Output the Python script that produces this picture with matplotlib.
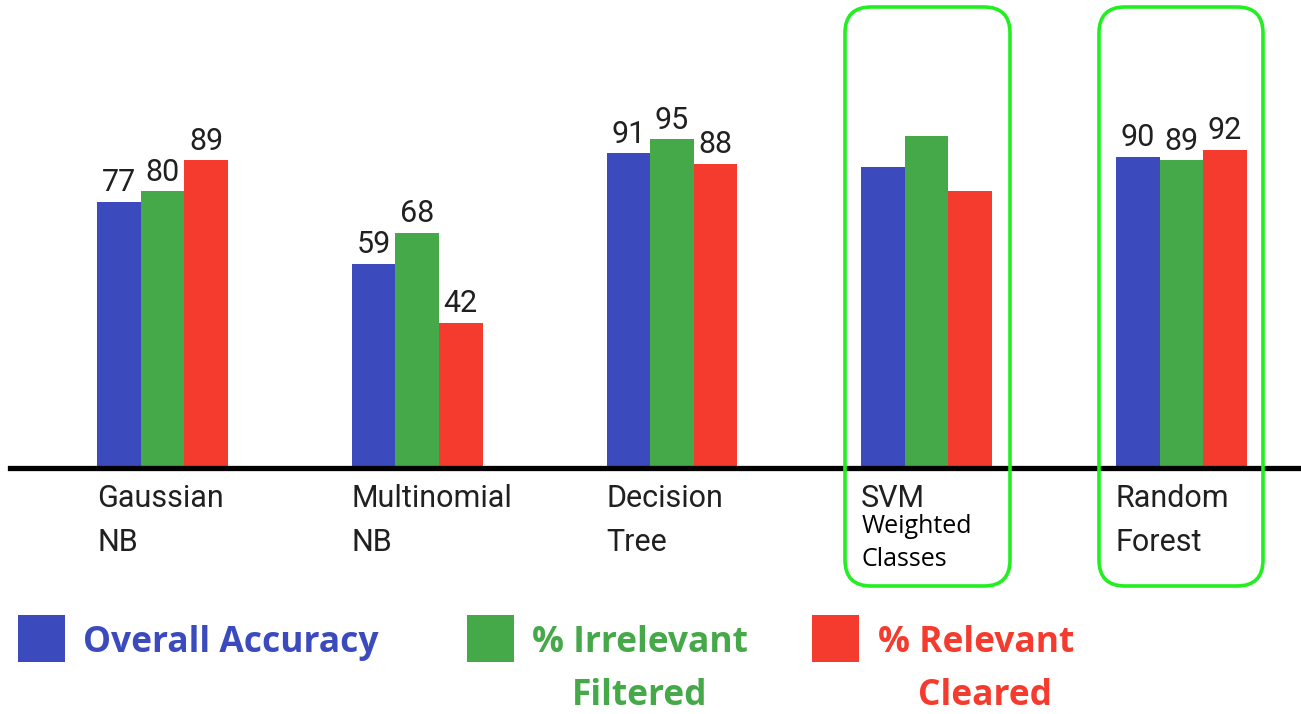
import matplotlib
matplotlib.use('Agg')
import matplotlib.pyplot as plt
from matplotlib.patches import FancyBboxPatch, Rectangle
from matplotlib.transforms import IdentityTransform
import numpy as np

# data
models = ['Gaussian\nNB', 'Multinomial\nNB', 'Decision\nTree', 'SVM', 'Random\nForest']
overall_acc = [77, 59, 91, 87, 90]
irrelevant_filtered = [80, 68, 95, 96, 89]
relevant_cleared = [89, 42, 88, 80, 92]
show_values = [True, True, True, False, True]
series_names = ['Overall Accuracy', '% Irrelevant\nFiltered', '% Relevant\nCleared']
colors = ['#3B4BBE', '#45A849', '#F43B2E']

W, H = 1301, 714

fig = plt.figure(figsize=(W / 100, H / 100), dpi=100)
fig.patch.set_facecolor('white')

# axes: baseline sits 468 px from the top, ~3.46 px per unit
ax = fig.add_axes([0, (H - 468) / H, 1, 468 / H])
ax.set_ylim(0, 468 / 3.46)
ax.set_xlim(-162.4 / 254.75, (W - 162.4) / 254.75)
ax.axis('off')

x = np.arange(len(models))
w = 43.6 / 254.75
series = [overall_acc, irrelevant_filtered, relevant_cleared]

for i, (vals, c) in enumerate(zip(series, colors)):
    xs = x + (i - 1) * w
    ax.bar(xs, vals, w, color=c, edgecolor='none', zorder=2)
    for xx, v, show in zip(xs, vals, show_values):
        if show:
            ax.annotate(str(v), (xx, v), xytext=(0, 7.5), textcoords='offset points',
                        ha='center', va='baseline', fontsize=22, family='Roboto',
                        color='#202020')

# black baseline
ax.axhline(0, xmin=10 / W, xmax=1, color='black', lw=3.8, zorder=3, clip_on=False)

# category labels, left-aligned under each group
for xx, name in zip(x, models):
    left = xx - 1.5 * w
    for j, line in enumerate(name.split('\n')):
        ax.annotate(line, (left, 0), xytext=(0, -(39 + 44 * j) * 0.72),
                    textcoords='offset points', ha='left', va='baseline',
                    fontsize=22, family='Roboto', color='#202020',
                    annotation_clip=False)

# extra note under SVM
svm_left = x[3] - 1.5 * w
for j, line in enumerate(['Weighted', 'Classes']):
    ax.annotate(line, (svm_left, 0), xytext=(0, -(65 + 33 * j) * 0.72),
                textcoords='offset points', ha='left', va='baseline',
                fontsize=18, family='Open Sans', color='black',
                annotation_clip=False)

# green highlight boxes (pixel coords)
for bx0, bx1 in [(845, 1010), (1099, 1263)]:
    box = FancyBboxPatch((bx0, H - 586), bx1 - bx0, 586 - 7,
                         boxstyle='round,pad=0,rounding_size=26',
                         fill=False, edgecolor='#22EE22', lw=2.6,
                         transform=IdentityTransform())
    fig.add_artist(box)

# legend drawn by hand
leg_sq = [18, 467, 812]
leg_text = [[(83, 'Overall Accuracy')],
            [(532, '% Irrelevant'), (572, 'Filtered')],
            [(878, '% Relevant'), (918, 'Cleared')]]
for sx, c, lines in zip(leg_sq, colors, leg_text):
    fig.add_artist(Rectangle((sx, H - 662), 47, 47, facecolor=c, edgecolor='none',
                             transform=IdentityTransform()))
    for j, (tx, t) in enumerate(lines):
        fig.text(tx / W, (H - (652 + 53 * j)) / H, t, ha='left', va='baseline',
                 fontsize=25.5, fontweight='bold', family='Open Sans', color=c)

fig.savefig('out.png', dpi=100)
